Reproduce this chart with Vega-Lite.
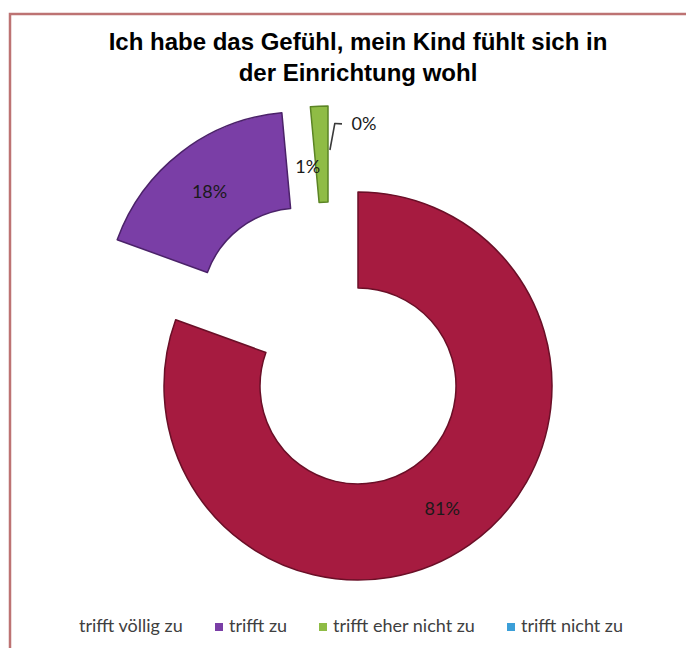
{
  "$schema": "https://vega.github.io/schema/vega-lite/v6.json",
  "width": 676,
  "height": 634,
  "autosize": {"type": "none"},
  "padding": {"left": 10, "top": 14, "right": 0, "bottom": 0},
  "background": "white",
  "title": {
    "text": ["Ich habe das Gefühl, mein Kind fühlt sich in", "der Einrichtung wohl"],
    "font": "Liberation Sans",
    "fontSize": 24,
    "fontWeight": "bold",
    "color": "#000000",
    "lineHeight": 31,
    "offset": -72,
    "dx": 10,
    "anchor": "middle"
  },
  "data": {
    "values": [
      {"cat": "trifft völlig zu", "rank": 1, "value": 0.8055},
      {"cat": "trifft zu", "rank": 2, "value": 0.18},
      {"cat": "trifft eher nicht zu", "rank": 3, "value": 0.0145},
      {"cat": "trifft nicht zu", "rank": 4, "value": 0.0}
    ]
  },
  "layer": [
    {
      "mark": {"type": "arc", "radius": 194, "radius2": 98, "strokeWidth": 1.5, "strokeJoin": "round"},
      "encoding": {
        "theta": {"field": "value", "type": "quantitative", "stack": true},
        "order": {"field": "rank", "type": "quantitative"},
        "x": {"field": "rank", "type": "quantitative", "axis": null,
              "scale": {"domain": [1, 2, 3, 4], "range": [348, 289.5, 318, 348], "nice": false, "zero": false}},
        "y": {"field": "rank", "type": "quantitative", "axis": null,
              "scale": {"domain": [1, 2, 3, 4], "range": [372, 292, 286, 372], "nice": false, "zero": false}},
        "color": {
          "field": "cat", "type": "nominal",
          "scale": {"domain": ["trifft völlig zu", "trifft zu", "trifft eher nicht zu", "trifft nicht zu"],
                    "range": ["#a61b40", "#7a3ea6", "#8fbc45", "#3b9fd8"]},
          "legend": {
            "orient": "none", "legendX": 50, "legendY": 604,
            "direction": "horizontal", "columns": 4, "title": null,
            "labelFont": "Lato", "labelFontSize": 18, "labelColor": "#404040",
            "symbolType": "square", "symbolSize": 64, "symbolStrokeWidth": 0,
            "columnPadding": 26, "labelOffset": 1, "padding": 0,
            "encode": {"symbols": {"update": {"opacity": {"signal": "datum.value === 'trifft völlig zu' ? 0 : 1"}}}}
          }
        },
        "stroke": {
          "field": "cat", "type": "nominal",
          "scale": {"domain": ["trifft völlig zu", "trifft zu", "trifft eher nicht zu", "trifft nicht zu"],
                    "range": ["#6a0f27", "#4b2269", "#5b8424", "transparent"]},
          "legend": null
        }
      }
    },
    {
      "mark": {"type": "text", "radius": 146, "font": "Lato", "fontSize": 18, "color": "#1a1a1a"},
      "encoding": {
        "theta": {"field": "value", "type": "quantitative", "stack": true},
        "order": {"field": "rank", "type": "quantitative"},
        "x": {"field": "rank", "type": "quantitative", "axis": null,
              "scale": {"domain": [1, 2, 3, 4], "range": [348.5, 288.7, 304.4, 354], "nice": false, "zero": false}},
        "y": {"field": "rank", "type": "quantitative", "axis": null,
              "scale": {"domain": [1, 2, 3, 4], "range": [376.3, 295, 299.9, 257], "nice": false, "zero": false}},
        "text": {"field": "value", "type": "quantitative", "format": ".0%"}
      }
    },
    {
      "transform": [{"filter": "datum.cat === 'trifft nicht zu'"}],
      "mark": {"type": "arc", "filled": false, "color": "#3a3a3a", "strokeWidth": 1.6,
               "radius": 87.5, "radius2": 60, "thetaOffset": 0.183, "theta2Offset": 0.183},
      "encoding": {
        "theta": {"field": "value", "type": "quantitative", "stack": true},
        "x": {"field": "rank", "type": "quantitative", "axis": null,
              "scale": {"domain": [1, 4], "range": [309, 309], "nice": false, "zero": false}},
        "y": {"field": "rank", "type": "quantitative", "axis": null,
              "scale": {"domain": [1, 4], "range": [195, 195], "nice": false, "zero": false}}
      }
    },
    {
      "transform": [{"filter": "datum.cat === 'trifft nicht zu'"}],
      "mark": {"type": "arc", "filled": false, "color": "#3a3a3a", "strokeWidth": 1.6,
               "radius": 17, "radius2": 10, "thetaOffset": 1.62, "theta2Offset": 1.62},
      "encoding": {
        "theta": {"field": "value", "type": "quantitative", "stack": true},
        "x": {"field": "rank", "type": "quantitative", "axis": null,
              "scale": {"domain": [1, 4], "range": [315, 315], "nice": false, "zero": false}},
        "y": {"field": "rank", "type": "quantitative", "axis": null,
              "scale": {"domain": [1, 4], "range": [109, 109], "nice": false, "zero": false}}
      }
    }
  ],
  "resolve": {"scale": {"x": "independent", "y": "independent"}},
  "config": {
    "view": {"stroke": "#bd7373", "strokeWidth": 2.5, "strokeDash": [676, 1310, 634]}
  }
}
